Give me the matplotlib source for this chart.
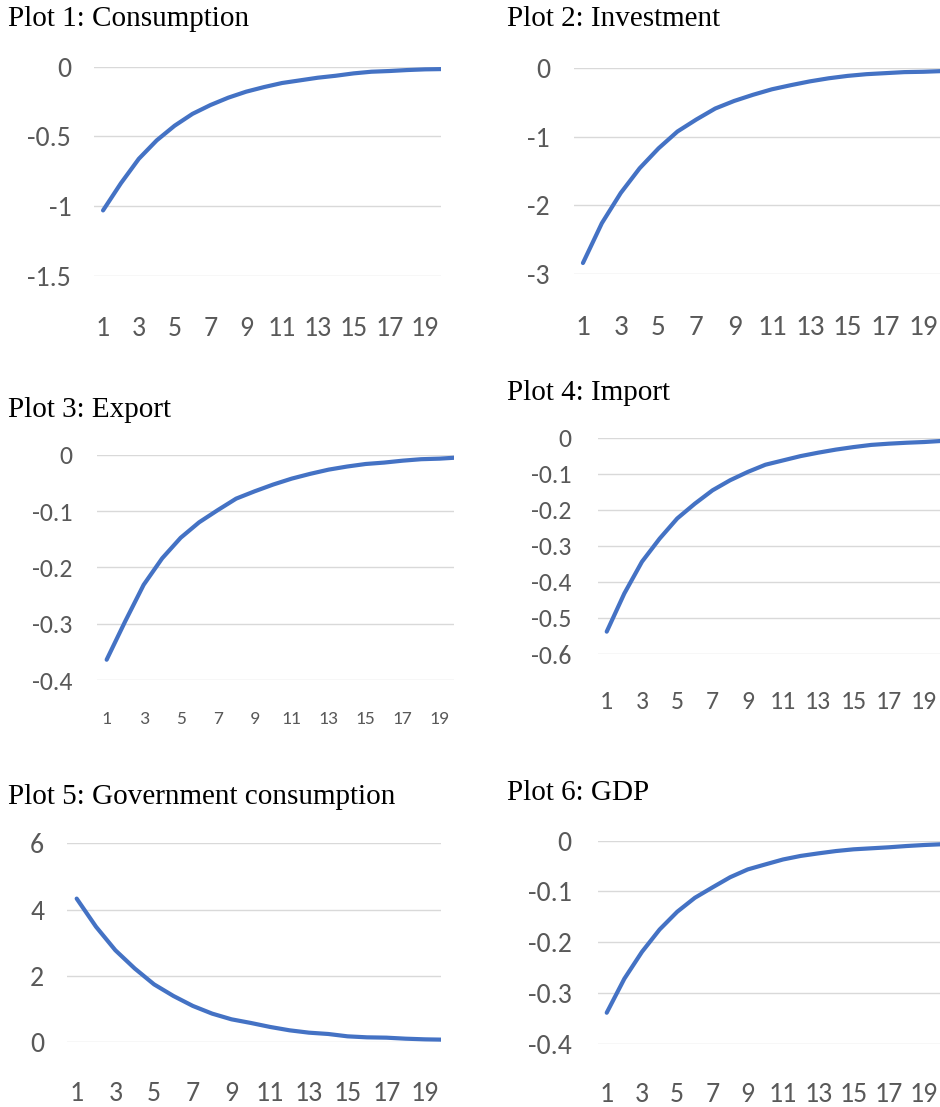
import matplotlib
matplotlib.use("Agg")
import matplotlib.pyplot as plt
from matplotlib import font_manager

# ---- data -------------------------------------------------------------
periods = list(range(1, 21))
xtick_labels = [str(p) for p in range(1, 20, 2)]

consumption = [-1.03, -0.835, -0.66, -0.528, -0.423, -0.338, -0.275, -0.222, -0.179, -0.146,
               -0.117, -0.098, -0.079, -0.065, -0.048, -0.036, -0.031, -0.024, -0.019, -0.017]
investment = [-2.84, -2.26, -1.82, -1.46, -1.17, -0.925, -0.75, -0.59, -0.48, -0.39,
              -0.31, -0.25, -0.195, -0.15, -0.115, -0.09, -0.075, -0.06, -0.055, -0.045]
export = [-0.364, -0.296, -0.231, -0.184, -0.1475, -0.120, -0.0985, -0.078, -0.065, -0.053,
          -0.0425, -0.034, -0.0265, -0.021, -0.0165, -0.014, -0.0106, -0.008, -0.007, -0.005]
imports = [-0.538, -0.432, -0.344, -0.28, -0.224, -0.183, -0.146, -0.118, -0.095, -0.075,
           -0.063, -0.051, -0.0415, -0.033, -0.026, -0.020, -0.0166, -0.014, -0.012, -0.009]
gov_consumption = [4.33, 3.48, 2.77, 2.22, 1.74, 1.39, 1.09, 0.857, 0.685, 0.575,
                   0.454, 0.353, 0.282, 0.242, 0.171, 0.141, 0.131, 0.10, 0.08, 0.07]
gdp = [-0.339, -0.272, -0.219, -0.175, -0.14, -0.1125, -0.092, -0.072, -0.0566, -0.0467,
       -0.037, -0.030, -0.025, -0.0204, -0.017, -0.015, -0.013, -0.0105, -0.0085, -0.007]

titles = ["Plot 1: Consumption", "Plot 2: Investment", "Plot 3: Export",
          "Plot 4: Import", "Plot 5: Government consumption", "Plot 6: GDP"]
series = [consumption, investment, export, imports, gov_consumption, gdp]
yticks = [
    [0, -0.5, -1, -1.5],
    [0, -1, -2, -3],
    [0, -0.1, -0.2, -0.3, -0.4],
    [0, -0.1, -0.2, -0.3, -0.4, -0.5, -0.6],
    [6, 4, 2, 0],
    [0, -0.1, -0.2, -0.3, -0.4],
]

# ---- styling ----------------------------------------------------------
W, H = 940, 1107
DPI = 100
LINE_COLOR = "#4472C4"
GRID_COLOR = "#D9D9D9"
TICK_COLOR = "#595959"

installed = {f.name for f in font_manager.fontManager.ttflist}
tick_font = next((f for f in ["Carlito", "Lato", "Open Sans"] if f in installed), "DejaVu Sans")
title_font = next((f for f in ["Liberation Serif", "DejaVu Serif"] if f in installed), "serif")

# plotting areas in pixels: left edge, top, visible right edge, bottom,
# width of one category; then title anchor, label pads (pt) and sizes (pt)
layout = [
    dict(box=(94.1, 66.7, 441, 276), step=17.89, title=(8, 19),
         ypad=16.5, xpad=28.5, ysize=20, xsize=20),
    dict(box=(573.5, 68, 940, 274), step=18.9, title=(506.7, 19),
         ypad=17, xpad=29.5, ysize=20, xsize=21),
    dict(box=(97.4, 454.7, 454, 680), step=18.5, title=(8, 410),
         ypad=18, xpad=22, ysize=18.5, xsize=14),
    dict(box=(597.9, 437.7, 940, 654), step=17.63, title=(506.7, 393),
         ypad=19, xpad=26, ysize=18.5, xsize=18.5),
    dict(box=(67, 843.3, 440.7, 1042), step=19.35, title=(8, 796.7),
         ypad=16.5, xpad=28, ysize=20, xsize=20),
    dict(box=(597.9, 840.7, 940, 1043.7), step=17.63, title=(506.7, 792.7),
         ypad=19, xpad=27.5, ysize=20, xsize=20),
]

fig = plt.figure(figsize=(W / DPI, H / DPI), dpi=DPI)
fig.patch.set_facecolor("white")

for title, values, ticks, spec in zip(titles, series, yticks, layout):
    left, top, right, bottom = spec["box"]
    ax = fig.add_axes([left / W, 1 - bottom / H, (right - left) / W, (bottom - top) / H])
    ax.set_facecolor("none")
    ax.plot(periods, values, color=LINE_COLOR, lw=3.0, solid_capstyle="round",
            solid_joinstyle="round", zorder=3)
    ax.set_xlim(0.5, 0.5 + (right - left) / spec["step"])
    ax.set_ylim(min(ticks), max(ticks))
    ax.set_yticks(ticks)
    ax.set_yticklabels([f"{t:g}" for t in ticks])
    ax.set_xticks(periods[::2])
    ax.set_xticklabels(xtick_labels)
    ax.grid(axis="y", color=GRID_COLOR, lw=1.0)
    ax.set_axisbelow(True)
    for s in ax.spines.values():
        s.set_visible(False)
    ax.tick_params(axis="both", length=0, colors=TICK_COLOR)
    ax.tick_params(axis="y", pad=spec["ypad"], labelsize=spec["ysize"])
    ax.tick_params(axis="x", pad=spec["xpad"], labelsize=spec["xsize"])
    for lab in ax.get_xticklabels() + ax.get_yticklabels():
        lab.set_fontfamily(tick_font)
    tx, ty = spec["title"]
    fig.text(tx / W, 1 - ty / H, title, fontsize=21, family=title_font,
             color="black", ha="left", va="center")

fig.savefig("out.png", dpi=DPI, facecolor="white")
